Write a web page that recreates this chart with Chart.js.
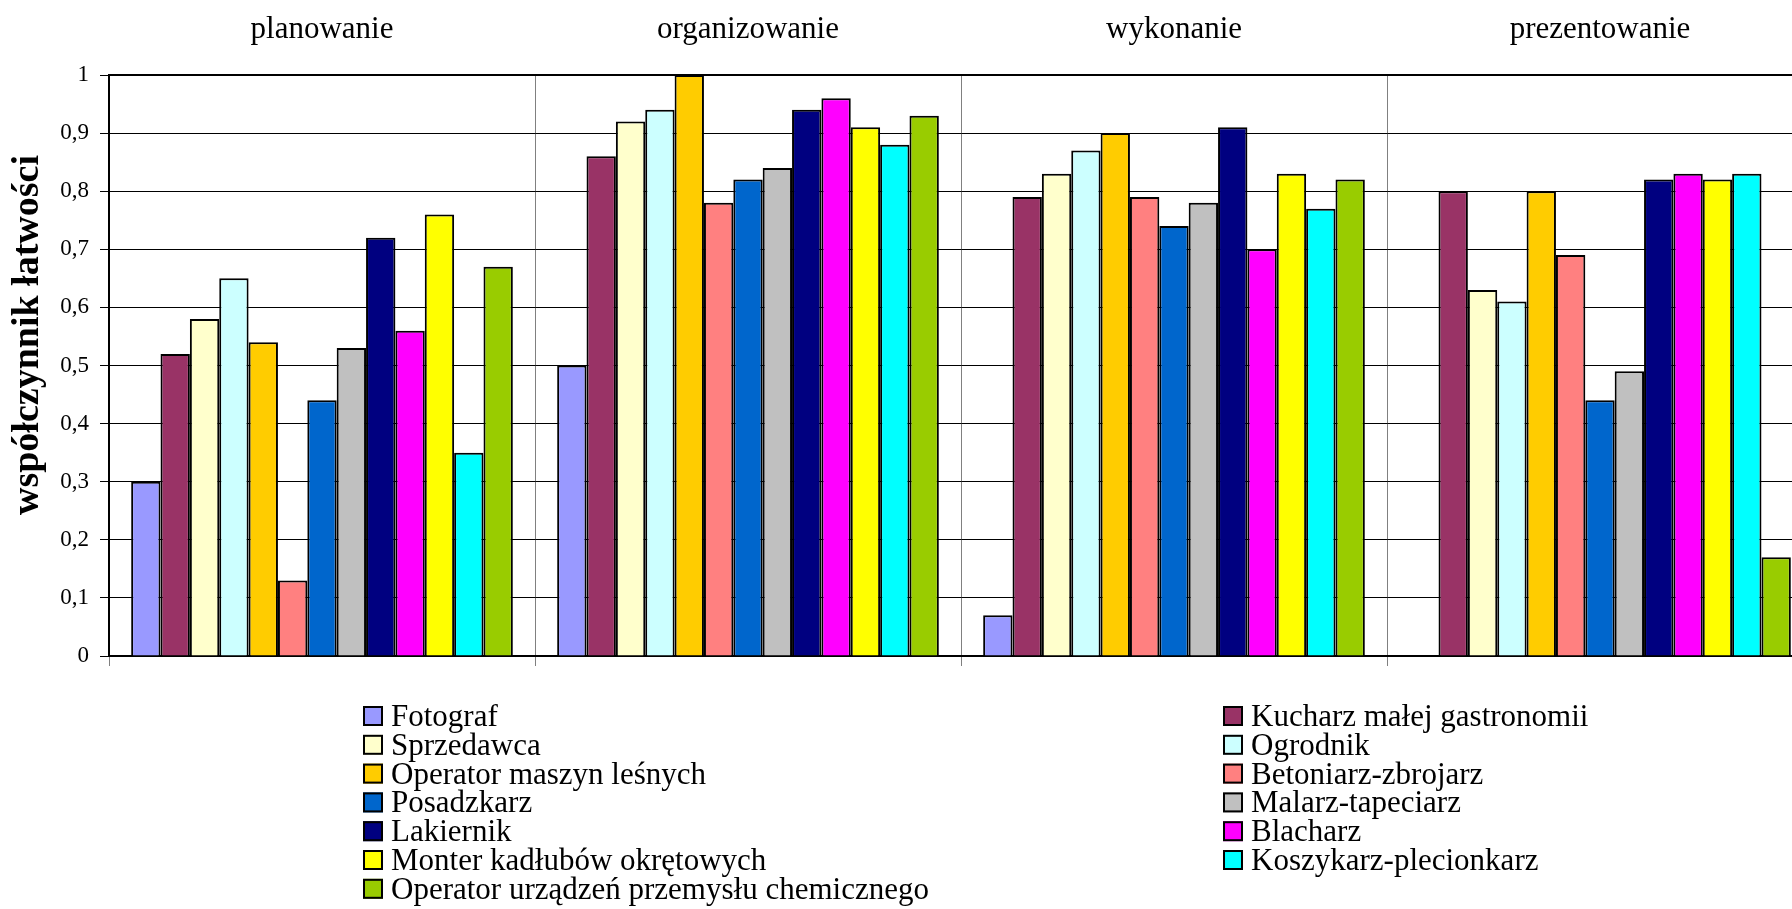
<!DOCTYPE html>
<html lang="pl">
<head>
<meta charset="utf-8">
<title>Współczynnik łatwości</title>
<script src="https://cdn.jsdelivr.net/npm/chart.js@4/dist/chart.umd.min.js"></script>
<style>
  html, body { margin: 0; padding: 0; background: #fff; overflow: hidden; }
  #wrap { position: relative; width: 1792px; height: 909px; overflow: hidden; }
  #chart { position: absolute; left: 0; top: 0; }
</style>
</head>
<body>
<div id="wrap">
  <canvas id="chart" width="1816" height="909"></canvas>
</div>
<script>
// Stages (categories on the x axis)
const stages = ['planowanie', 'organizowanie', 'wykonanie', 'prezentowanie'];

// Occupations (one series each)
const occupations = [
  'Fotograf',
  'Kucharz małej gastronomii',
  'Sprzedawca',
  'Ogrodnik',
  'Operator maszyn leśnych',
  'Betoniarz-zbrojarz',
  'Posadzkarz',
  'Malarz-tapeciarz',
  'Lakiernik',
  'Blacharz',
  'Monter kadłubów okrętowych',
  'Koszykarz-plecionkarz',
  'Operator urządzeń przemysłu chemicznego'
];

// Values per stage, in the same order as occupations
const planowanie    = [0.30, 0.52, 0.58, 0.65, 0.54, 0.13, 0.44, 0.53, 0.72, 0.56, 0.76, 0.35, 0.67];
const organizowanie = [0.50, 0.86, 0.92, 0.94, 1.00, 0.78, 0.82, 0.84, 0.94, 0.96, 0.91, 0.88, 0.93];
const wykonanie     = [0.07, 0.79, 0.83, 0.87, 0.90, 0.79, 0.74, 0.78, 0.91, 0.70, 0.83, 0.77, 0.82];
const prezentowanie = [null, 0.80, 0.63, 0.61, 0.80, 0.69, 0.44, 0.49, 0.82, 0.83, 0.82, 0.83, 0.17];

// Excel palette colours
const colors = [
  '#9999FF', '#993366', '#FFFFCC', '#CCFFFF', '#FFCC00', '#FF8080', '#0066CC',
  '#C0C0C0', '#000080', '#FF00FF', '#FFFF00', '#00FFFF', '#99CC00'
];

const yTitle = 'współczynnik łatwości';

const stageValues = [planowanie, organizowanie, wykonanie, prezentowanie];

Chart.defaults.font.family = "'Liberation Serif', 'Times New Roman', serif";
Chart.defaults.color = '#000';

// Build one dataset per occupation
const datasets = occupations.map((name, i) => ({
  label: name,
  data: stageValues.map(values => values[i]),
  backgroundColor: colors[i],
  borderColor: '#000',
  borderWidth: 2,
  barPercentage: 1,
  categoryPercentage: 0.896
}));

// Two column legend below the plot
const gridLegend = {
  id: 'gridLegend',
  afterDraw(chart) {
    const ctx = chart.ctx;
    ctx.save();
    ctx.font = "31px 'Liberation Serif', serif";
    ctx.textBaseline = 'alphabetic';
    chart.data.datasets.forEach((ds, i) => {
      const x = i % 2 ? 1223 : 363;
      const y = 706 + Math.floor(i / 2) * 28.8;
      ctx.fillStyle = ds.backgroundColor;
      ctx.fillRect(x, y, 20, 20);
      ctx.lineWidth = 2;
      ctx.strokeStyle = '#000';
      ctx.strokeRect(x + 1, y + 1, 18, 18);
      ctx.fillStyle = '#000';
      ctx.fillText(ds.label, x + 28, y + 20);
    });
    ctx.restore();
  }
};

// Y axis title, sitting a bit above the middle of the plot like the original
const sideTitle = {
  id: 'sideTitle',
  afterDraw(chart) {
    const ctx = chart.ctx;
    ctx.save();
    ctx.translate(28, 335);
    ctx.rotate(-Math.PI / 2);
    ctx.font = "bold 38px 'Liberation Serif', serif";
    ctx.textAlign = 'center';
    ctx.textBaseline = 'middle';
    ctx.fillStyle = '#000';
    ctx.fillText(yTitle, 0, 0);
    ctx.restore();
  }
};

new Chart(document.getElementById('chart'), {
  type: 'bar',
  data: { labels: stages, datasets: datasets },
  plugins: [gridLegend, sideTitle],
  options: {
    responsive: false,
    animation: false,
    layout: { padding: { left: 0, right: 3, top: 0, bottom: 230 } },
    plugins: {
      legend: { display: false },
      tooltip: { enabled: false }
    },
    scales: {
      x: {
        position: 'bottom',
        offset: true,
        afterFit: s => { s.height = 23; },
        ticks: { display: false },
        grid: { offset: true, color: '#808080', lineWidth: 1, tickLength: 10 },
        border: { display: true, color: '#000', width: 2 }
      },
      x2: {
        type: 'category',
        position: 'top',
        offset: true,
        afterFit: s => { s.height = 75; },
        ticks: { font: { size: 31 }, padding: 27, maxRotation: 0 },
        grid: { display: false, drawTicks: false },
        border: { display: true, color: '#000', width: 2 }
      },
      y: {
        min: 0,
        max: 1,
        afterFit: s => { s.width = 109; },
        ticks: {
          stepSize: 0.1,
          padding: 11,
          font: { size: 23 },
          callback: v => (v === 0 || v === 1) ? String(v) : v.toFixed(1).replace('.', ',')
        },
        grid: { color: '#000', lineWidth: 1, tickLength: 9 },
        border: { display: true, color: '#000', width: 2 }
      }
    }
  }
});
</script>
</body>
</html>
